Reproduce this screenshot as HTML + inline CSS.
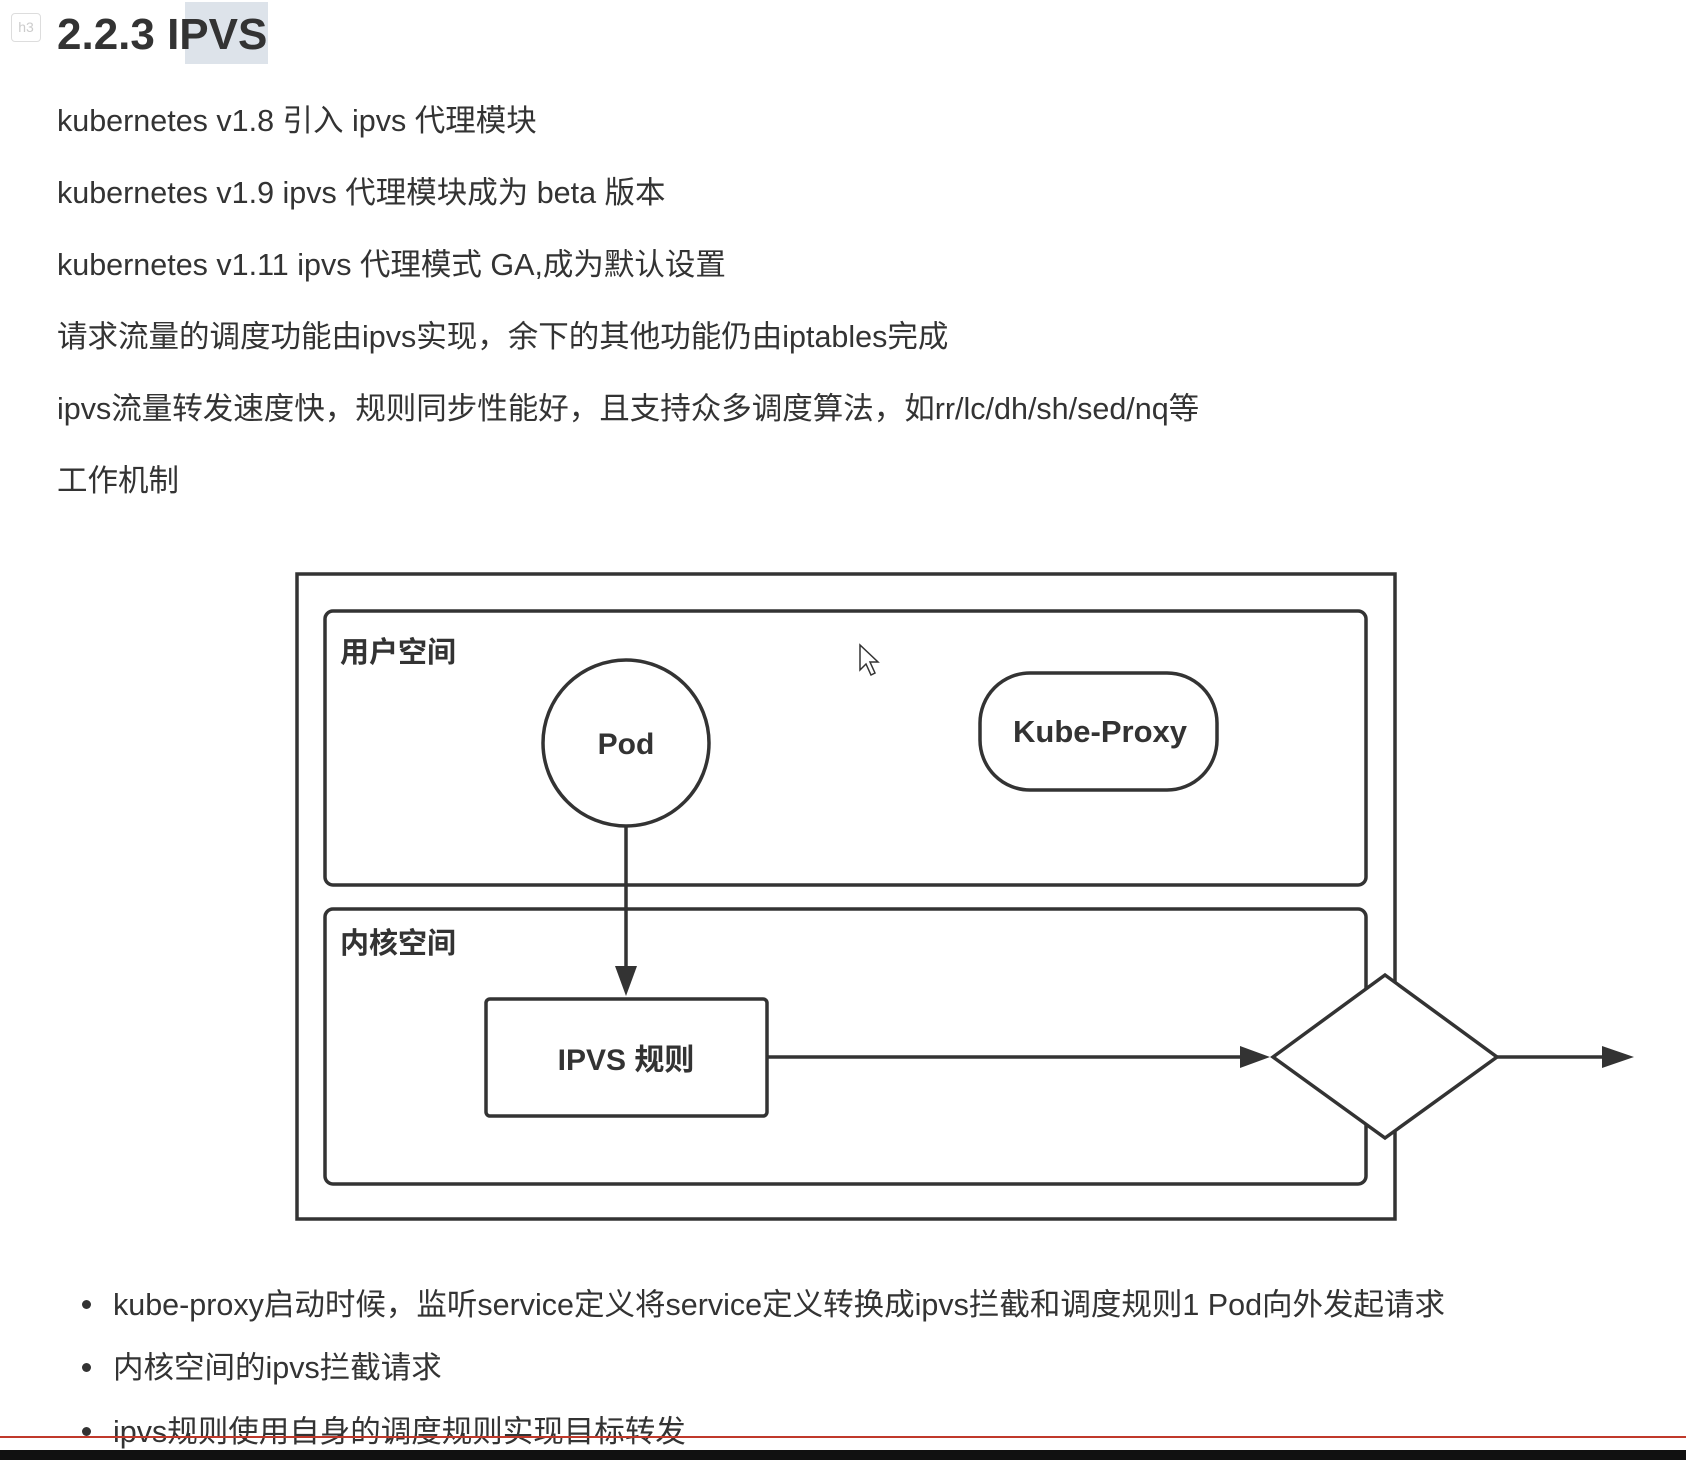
<!DOCTYPE html>
<html><head><meta charset="utf-8"><style>
html,body{margin:0;padding:0;background:#fff;width:1686px;height:1460px;overflow:hidden;position:relative;font-family:"Liberation Sans","Noto Sans CJK SC",sans-serif;}
.t{position:absolute;left:57px;font-size:30.5px;color:#333;white-space:nowrap;line-height:36px;}
.b{position:absolute;left:113px;font-size:30.5px;color:#333;white-space:nowrap;line-height:36px;}
.dot{position:absolute;left:82px;width:9px;height:9px;border-radius:50%;background:#333;}
</style></head><body>
<div style="position:absolute;left:11px;top:13px;width:28px;height:27px;border:1px solid #ddd;border-radius:4px;color:#ccc;font-size:14px;text-align:center;line-height:27px;">h3</div>
<div style="position:absolute;left:185px;top:2px;width:83px;height:62px;background:#dde3ea;"></div>
<div style="position:absolute;left:57px;top:8px;font-size:44px;font-weight:bold;color:#333;line-height:54px;">2.2.3 IPVS</div>
<div class="t" style="top:103px">kubernetes v1.8 引入 ipvs 代理模块</div>
<div class="t" style="top:175px">kubernetes v1.9 ipvs 代理模块成为 beta 版本</div>
<div class="t" style="top:247px">kubernetes v1.11 ipvs 代理模式 GA,成为默认设置</div>
<div class="t" style="top:319px">请求流量的调度功能由ipvs实现，余下的其他功能仍由iptables完成</div>
<div class="t" style="top:391px">ipvs流量转发速度快，规则同步性能好，且支持众多调度算法，如rr/lc/dh/sh/sed/nq等</div>
<div class="t" style="top:463px">工作机制</div>
<svg width="1686" height="1460" style="position:absolute;left:0;top:0" xmlns="http://www.w3.org/2000/svg">
<g stroke="#333" stroke-width="3.5" fill="none">
<rect x="297" y="574" width="1098" height="645"/>
<rect x="325" y="611" width="1041" height="274" rx="8"/>
<rect x="325" y="909" width="1041" height="275" rx="8"/>
<circle cx="626" cy="743" r="83" fill="#fff"/>
<rect x="980" y="673" width="237" height="117" rx="50" fill="#fff"/>
<rect x="486" y="999" width="281" height="117" rx="4" fill="#fff"/>
<line x1="626" y1="826" x2="626" y2="970"/>
<path d="M615,966 L626,996 L637,966 z" fill="#333" stroke="none"/>
<line x1="767" y1="1057" x2="1245" y2="1057"/>
<path d="M1240,1046 L1270,1057 L1240,1068 z" fill="#333" stroke="none"/>
<polygon points="1273,1057 1385,975 1497,1057 1385,1138" fill="#fff"/>
<line x1="1497" y1="1057" x2="1606" y2="1057"/>
<path d="M1602,1046 L1634,1057 L1602,1068 z" fill="#333" stroke="none"/>
</g>
<g font-family="Liberation Sans, Noto Sans CJK SC, sans-serif" font-weight="bold" fill="#333">
<text x="340" y="662" font-size="29">用户空间</text>
<text x="340" y="953" font-size="29">内核空间</text>
<text x="626" y="754" font-size="30" text-anchor="middle">Pod</text>
<text x="1100" y="742" font-size="31" text-anchor="middle">Kube-Proxy</text>
<text x="626" y="1070" font-size="30" text-anchor="middle">IPVS 规则</text>
</g>
<path d="M860,645 L860,670 L866,664 L871,675 L875,673 L870,662 L878,662 z" fill="#fff" stroke="#333" stroke-width="1.5"/>
</svg>
<div class="dot" style="top:1300px"></div><div class="b" style="top:1287px">kube-proxy启动时候，监听service定义将service定义转换成ipvs拦截和调度规则1 Pod向外发起请求</div>
<div class="dot" style="top:1363px"></div><div class="b" style="top:1350px">内核空间的ipvs拦截请求</div>
<div class="dot" style="top:1427px"></div><div class="b" style="top:1414px">ipvs规则使用自身的调度规则实现目标转发</div>
<div style="position:absolute;left:0;top:1436px;width:1686px;height:2px;background:#c0392b;"></div>
<div style="position:absolute;left:0;top:1450px;width:1686px;height:10px;background:#111;"></div>
</body></html>
